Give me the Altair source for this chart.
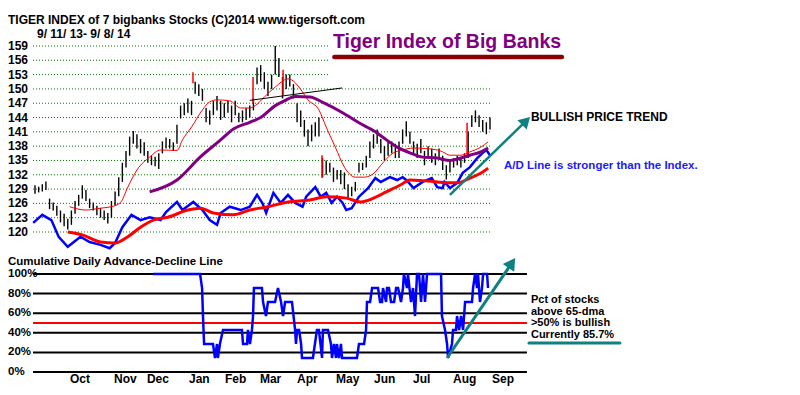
import altair as alt
import pandas as pd

# ---------------- layout constants ----------------
W, H = 784, 379
XMIN, XMAX = -14.835, 415.934          # trading-day index domain of the x scale
PRICE_DOMAIN = [87.497, 166.968]       # price scale domain (top panel)
PCT_DOMAIN = [-15.31, 371.43]          # percent scale domain (bottom panel)

# ---------------- data ----------------
bar_day = list(range(0, 251, 2))
bar_low = [128.0, 128.3, 128.5, 128.8, 124.8, 124.5, 123.4, 122.0, 121.2, 120.5,
           121.5, 123.8, 125.5, 127.0, 126.5, 125.0, 124.5, 123.5, 123.0, 122.5,
           121.8, 123.0, 125.5, 127.5, 130.5, 133.5, 136.0, 138.5, 137.5, 136.5,
           136.0, 134.5, 134.0, 133.8, 133.2, 136.5, 137.5, 137.5, 137.0, 138.5,
           143.8, 144.5, 145.0, 144.5, 149.0, 148.5, 147.5, 143.0, 142.5, 144.5,
           145.5, 143.5, 144.0, 145.0, 143.0, 144.5, 143.0, 143.0, 143.5, 144.0,
           145.5, 151.0, 151.5, 150.0, 148.5, 150.0, 153.0, 152.5, 148.0, 150.0,
           150.5, 148.0, 143.0, 142.0, 140.0, 138.0, 139.0, 140.0, 140.0, 131.5,
           132.0, 132.5, 130.5, 131.0, 130.0, 129.0, 127.0, 127.5, 128.5, 132.5,
           133.0, 133.5, 135.5, 137.5, 138.5, 136.5, 135.0, 136.0, 136.5, 135.5,
           135.5, 138.5, 140.0, 138.5, 136.5, 135.5, 136.5, 134.0, 135.5, 134.5,
           134.0, 135.5, 133.0, 131.0, 132.5, 133.5, 134.0, 133.5, 134.5, 135.5,
           142.0, 143.0, 142.0, 141.0, 140.5, 141.5]
bar_high = [129.8, 129.5, 130.0, 130.6, 127.0, 126.2, 125.5, 124.5, 123.8, 122.8,
            124.5, 126.5, 127.8, 129.8, 128.8, 127.0, 126.2, 125.5, 125.0, 124.5,
            124.0, 126.5, 128.5, 131.5, 134.5, 137.0, 140.0, 141.2, 140.5, 139.5,
            138.8, 137.0, 136.0, 135.8, 136.5, 139.0, 139.8, 139.5, 138.8, 142.5,
            146.5, 147.0, 148.0, 147.5, 151.5, 151.0, 150.0, 146.0, 145.5, 147.5,
            148.5, 147.5, 147.0, 147.5, 146.5, 147.5, 145.0, 145.5, 146.0, 146.5,
            148.0, 154.5, 155.0, 153.5, 151.5, 153.0, 159.0, 156.5, 152.5, 153.0,
            153.0, 151.0, 147.0, 145.5, 143.5, 141.5, 142.5, 143.0, 144.0, 135.5,
            135.0, 134.5, 133.5, 133.0, 133.0, 132.5, 130.0, 129.5, 130.5, 134.5,
            134.5, 136.0, 139.0, 140.5, 141.5, 139.5, 138.0, 139.0, 139.0, 138.5,
            139.0, 141.5, 143.2, 141.0, 139.0, 138.5, 139.5, 137.0, 138.0, 137.5,
            136.5, 137.5, 136.0, 134.0, 135.0, 135.5, 136.0, 135.5, 136.5, 141.0,
            144.5, 145.5, 144.5, 143.5, 143.0, 144.0]

# red signal bars
sig_day = [86.8, 119.8, 136.3, 157.7, 237.4]
sig_low = [151.2, 147.0, 148.7, 131.3, 135.7]
sig_high = [153.5, 152.5, 154.0, 136.1, 142.9]

# 21-dma (thin red)
ma21_day = [19, 28, 36, 42, 47, 51, 56, 63, 69, 78, 81, 86, 92, 96, 100, 107, 113, 118, 121,
            126, 132, 139, 141, 145, 150, 156, 160, 165, 170, 176, 181, 187, 190, 197, 202,
            208, 221, 224, 228, 234, 239, 245, 249]
ma21_val = [125.3, 124.6, 125.0, 125.3, 126.2, 129.4, 133.0, 135.7, 137.2, 137.1, 139.3, 142.0,
            145.6, 147.3, 147.7, 147.5, 146.0, 146.0, 146.5, 148.3, 150.4, 152.1, 151.9, 150.4,
            147.7, 145.6, 142.0, 137.8, 133.6, 131.5, 131.5, 132.6, 134.0, 136.6, 137.2, 137.6,
            137.2, 136.8, 136.1, 136.1, 136.8, 137.8, 138.9]

# 65-dma (purple)
ma65_day = [63, 78, 91, 102, 109, 118, 124, 132, 137, 143, 151, 159, 169, 178, 187, 191, 199,
            206, 213, 221, 228, 234, 239, 245, 249]
ma65_val = [128.4, 130.9, 135.8, 139.3, 141.6, 143.0, 144.0, 146.5, 147.5, 148.4, 148.3, 147.0,
            145.0, 142.9, 141.0, 139.9, 137.8, 136.6, 135.7, 135.5, 135.0, 135.5, 136.1, 136.8,
            137.6]

# black resistance trendline
trend_day = [118, 168.7]
trend_val = [147.6, 150.2]

# A/D line (blue) plotted on the price panel
ad_day = [-1, 4, 9, 13, 18, 25, 30, 36, 41, 44, 48, 53, 58, 63, 69, 72, 78, 81, 87, 92, 96, 100,
          102, 107, 113, 118, 122, 125, 127, 131, 135, 139, 143, 147, 149, 154, 157, 160, 163,
          166, 169, 171, 174, 178, 183, 187, 190, 195, 199, 202, 204, 208, 213, 218, 221, 224,
          225, 228, 232, 235, 239, 243, 246, 248, 250]
ad_val = [121.9, 123.6, 122.5, 119.0, 116.9, 119.0, 117.9, 117.3, 116.6, 117.7, 121.0, 123.6,
          122.5, 123.1, 122.5, 124.2, 126.3, 124.6, 126.3, 124.6, 122.5, 121.5, 124.0, 125.3,
          124.6, 125.3, 127.8, 126.0, 124.0, 128.2, 126.1, 127.8, 126.1, 125.3, 127.4, 129.4,
          127.4, 128.2, 126.1, 127.4, 126.1, 124.6, 125.0, 127.4, 129.2, 131.3, 130.5, 131.5,
          130.9, 131.5, 130.9, 129.2, 130.5, 131.3, 129.4, 129.2, 130.5, 129.2, 130.3, 132.4,
          133.6, 135.5, 136.6, 137.2, 136.1]

# moving average of the A/D line (thick red)
adma_day = [18, 26, 36, 44, 51, 58, 65, 73, 84, 91, 98, 109, 118, 128, 139, 151, 160, 171, 179,
            186, 193, 201, 206, 221, 226, 232, 239, 246, 249]
adma_val = [120.0, 119.4, 117.9, 117.7, 119.0, 121.0, 122.5, 123.1, 124.6, 125.0, 124.0, 123.6,
            124.6, 125.3, 126.3, 126.7, 127.4, 127.1, 126.3, 127.1, 128.4, 129.9, 130.9, 130.5,
            130.3, 130.3, 131.3, 132.6, 133.4]

# percent of stocks above 65-dma (bottom panel)
pct_day = [64.8, 90.7, 91.8, 92.3, 92.9, 97.8, 98.9, 100.0, 100.5, 101.6, 103.3, 113.7, 114.3,
           116.5, 117.0, 118.1, 119.2, 119.8, 120.3, 124.7, 125.3, 126.9, 128.0, 131.9, 133.5,
           135.2, 136.3, 137.4, 141.2, 142.9, 143.4, 144.0, 145.1, 146.2, 146.7, 152.7, 153.8,
           154.9, 156.0, 157.7, 158.2, 161.0, 162.6, 163.2, 164.3, 165.4, 165.9, 167.0, 168.1,
           168.7, 176.9, 178.0, 180.8, 181.9, 182.4, 184.1, 185.2, 188.5, 189.6, 190.7, 191.2,
           192.9, 193.4, 194.5, 195.6, 197.3, 198.4, 199.5, 201.1, 202.2, 202.7, 204.4, 204.9,
           206.6, 207.7, 208.8, 209.9, 211.0, 212.1, 213.2, 214.3, 215.4, 223.1, 223.6, 225.3,
           226.4, 227.0, 229.1, 229.7, 231.3, 231.9, 233.0, 234.1, 235.2, 236.3, 240.1, 240.7,
           241.8, 242.9, 243.4, 244.5, 245.6, 246.2, 248.4, 248.9]
pct_val = [100, 100, 85.7, 57.1, 28.6, 28.6, 14.3, 28.6, 14.3, 28.6, 42.9, 42.9, 28.6,
           28.6, 42.9, 28.6, 42.9, 57.1, 85.7, 85.7, 71.4, 57.1, 71.4, 71.4, 85.7,
           71.4, 57.1, 71.4, 71.4, 42.9, 28.6, 42.9, 42.9, 28.6, 14.3, 14.3, 28.6,
           42.9, 42.9, 14.3, 42.9, 42.9, 28.6, 14.3, 28.6, 14.3, 28.6, 14.3, 28.6,
           14.3, 14.3, 28.6, 28.6, 42.9, 71.4, 71.4, 85.7, 85.7, 71.4, 71.4, 85.7,
           71.4, 85.7, 85.7, 71.4, 71.4, 85.7, 85.7, 71.4, 85.7, 100, 85.7, 100,
           71.4, 85.7, 57.1, 100, 100, 71.4, 100, 71.4, 100, 100, 57.1, 42.9,
           28.6, 14.3, 28.6, 42.9, 42.9, 57.1, 42.9, 57.1, 42.9, 71.4, 71.4, 85.7,
           100, 85.7, 100, 71.4, 85.7, 100, 100, 85.7]

# axes / grids
price_ticks = [120, 123, 126, 129, 132, 135, 138, 141, 144, 147, 150, 153, 156, 159]
grid_end_day = [250, 250, 250, 250, 250, 250, 250, 250, 250, 250, 250, 161, 161, 161]
pct_ticks = [0, 20, 40, 60, 80, 100]
pct_labels = ["0%", "20%", "40%", "60%", "80%", "100%"]
months = ["Oct", "Nov", "Dec", "Jan", "Feb", "Mar", "Apr", "May", "Jun", "Jul", "Aug", "Sep"]
month_day = [19.2, 43.4, 61.5, 84.6, 104.4, 123.6, 144.0, 165.4, 186.3, 207.7, 229.7, 251.1]

# teal arrows (tail -> head)
arrow1_day = [228.0, 269.8]
arrow1_val = [127.8, 143.3]
arrow2_day = [226.4, 262.0]
arrow2_pct = [14.3, 111.2]

# ---------------- scales/helpers ----------------
xs = alt.Scale(domain=[XMIN, XMAX], nice=False, zero=False)
ps = alt.Scale(domain=PRICE_DOMAIN, nice=False, zero=False)
qs = alt.Scale(domain=PCT_DOMAIN, nice=False, zero=False)
FONT = "Liberation Sans"
TEAL = "#108080"


def X(f):
    return alt.X(f"{f}:Q", scale=xs, axis=None)


def YP(f):
    return alt.Y(f"{f}:Q", scale=ps, axis=None)


def YQ(f):
    return alt.Y(f"{f}:Q", scale=qs, axis=None)


layers = []

# price gridlines (green dotted)
grid_df = pd.DataFrame({"p": price_ticks, "d0": [-1.1] * len(price_ticks), "d1": grid_end_day})
layers.append(alt.Chart(grid_df).mark_rule(color="#007a00", strokeDash=[1, 2], strokeWidth=1)
              .encode(x=X("d0"), x2="d1", y=YP("p")))

# price labels
pl_df = pd.DataFrame({"p": price_ticks, "t": [str(v) for v in price_ticks]})
layers.append(alt.Chart(pl_df).mark_text(align="left", baseline="middle", font=FONT,
                                         fontSize=12, fontWeight="bold", color="black")
              .encode(x=alt.value(0), y=YP("p"), text="t:N"))

# price bars
bars_df = pd.DataFrame({"d": bar_day, "lo": bar_low, "hi": bar_high})
layers.append(alt.Chart(bars_df).mark_rule(color="black", strokeWidth=1.4)
              .encode(x=X("d"), y=YP("lo"), y2="hi"))

# red signal bars
sig_df = pd.DataFrame({"d": sig_day, "lo": sig_low, "hi": sig_high})
layers.append(alt.Chart(sig_df).mark_rule(color="#ff0000", strokeWidth=1.5)
              .encode(x=X("d"), y=YP("lo"), y2="hi"))

# 21-dma
ma21_df = pd.DataFrame({"d": ma21_day, "v": ma21_val})
layers.append(alt.Chart(ma21_df).mark_line(color="#ff0000", strokeWidth=1, interpolate="monotone")
              .encode(x=X("d"), y=YP("v")))

# A/D line
ad_df = pd.DataFrame({"d": ad_day, "v": ad_val})
layers.append(alt.Chart(ad_df).mark_line(color="#0000ff", strokeWidth=2.5)
              .encode(x=X("d"), y=YP("v")))

# A/D moving average
adma_df = pd.DataFrame({"d": adma_day, "v": adma_val})
layers.append(alt.Chart(adma_df).mark_line(color="#ff0000", strokeWidth=3, interpolate="monotone")
              .encode(x=X("d"), y=YP("v")))

# 65-dma
ma65_df = pd.DataFrame({"d": ma65_day, "v": ma65_val})
layers.append(alt.Chart(ma65_df).mark_line(color="#800080", strokeWidth=3, interpolate="monotone")
              .encode(x=X("d"), y=YP("v")))

# trendline
tr_df = pd.DataFrame({"d": trend_day, "v": trend_val})
layers.append(alt.Chart(tr_df).mark_line(color="black", strokeWidth=1)
              .encode(x=X("d"), y=YP("v")))

# teal arrow on price panel
a1_df = pd.DataFrame({"d": arrow1_day, "v": arrow1_val})
layers.append(alt.Chart(a1_df).mark_line(color=TEAL, strokeWidth=2.5)
              .encode(x=X("d"), y=YP("v")))
layers.append(alt.Chart(a1_df.tail(1)).mark_point(shape="triangle-up", filled=True, size=170,
                                                  angle=45, color=TEAL, opacity=1)
              .encode(x=X("d"), y=YP("v")))

# annotations on price panel
ann_df = pd.DataFrame({"d": [272.5], "v": [144.11], "t": ["BULLISH PRICE TREND"]})
layers.append(alt.Chart(ann_df).mark_text(align="left", baseline="middle", font=FONT, fontSize=12,
                                          fontWeight="bold", color="black")
              .encode(x=X("d"), y=YP("v"), text="t:N"))
ann2_df = pd.DataFrame({"d": [257.7], "v": [133.84], "t": ["A/D Line is stronger than the Index."]})
layers.append(alt.Chart(ann2_df).mark_text(align="left", baseline="middle", font=FONT, fontSize=11.5,
                                           fontWeight="bold", color="#1a1aff")
              .encode(x=X("d"), y=YP("v"), text="t:N"))

# big title with underline
ttl_df = pd.DataFrame({"d": [163.7], "v": [159.84], "t": ["Tiger Index of Big Banks"]})
layers.append(alt.Chart(ttl_df).mark_text(align="left", baseline="middle", font=FONT, fontSize=19.5,
                                          fontWeight="bold", color="#800080")
              .encode(x=X("d"), y=YP("v"), text="t:N"))
ul_df = pd.DataFrame({"d0": [164.5], "d1": [289.5], "v": [156.7]})
layers.append(alt.Chart(ul_df).mark_rule(color="#8b0000", strokeWidth=4.5, strokeCap="round")
              .encode(x=X("d0"), x2="d1", y=YP("v")))

# ---------- bottom panel ----------
pg_df = pd.DataFrame({"q": pct_ticks, "d0": [-1.1] * 6, "d1": [270.3] * 6, "t": pct_labels})
layers.append(alt.Chart(pg_df).mark_rule(color="black", strokeWidth=2)
              .encode(x=X("d0"), x2="d1", y=YQ("q")))
layers.append(alt.Chart(pg_df).mark_text(align="left", baseline="middle", font=FONT, fontSize=11.5,
                                         fontWeight="bold", color="black")
              .encode(x=alt.value(0), y=YQ("q"), text="t:N"))
red50_df = pd.DataFrame({"q": [50], "d0": [-1.1], "d1": [270.3]})
layers.append(alt.Chart(red50_df).mark_rule(color="#ff0000", strokeWidth=2)
              .encode(x=X("d0"), x2="d1", y=YQ("q")))

pct_df = pd.DataFrame({"d": pct_day, "q": pct_val})
layers.append(alt.Chart(pct_df).mark_line(color="#0000ff", strokeWidth=2.5)
              .encode(x=X("d"), y=YQ("q")))

a2_df = pd.DataFrame({"d": arrow2_day, "q": arrow2_pct})
layers.append(alt.Chart(a2_df).mark_line(color=TEAL, strokeWidth=3)
              .encode(x=X("d"), y=YQ("q")))
layers.append(alt.Chart(a2_df.tail(1)).mark_point(shape="triangle-up", filled=True, size=190,
                                                  angle=34, color=TEAL, opacity=1)
              .encode(x=X("d"), y=YQ("q")))

pt_df = pd.DataFrame({"d": [272.5] * 4, "q": [73.0, 61.2, 49.5, 37.8],
                      "t": ["Pct of stocks", "above 65-dma", ">50% is bullish", "Currently  85.7%"]})
layers.append(alt.Chart(pt_df).mark_text(align="left", baseline="middle", font=FONT, fontSize=11,
                                         fontWeight="bold", color="black")
              .encode(x=X("d"), y=YQ("q"), text="t:N"))
cu_df = pd.DataFrame({"d0": [271.4], "d1": [321.4], "q": [29.6]})
layers.append(alt.Chart(cu_df).mark_rule(color=TEAL, strokeWidth=3, strokeCap="round")
              .encode(x=X("d0"), x2="d1", y=YQ("q")))

cum_df = pd.DataFrame({"q": [112.2], "t": ["Cumulative Daily Advance-Decline Line"]})
layers.append(alt.Chart(cum_df).mark_text(align="left", baseline="middle", font=FONT, fontSize=11.5,
                                          fontWeight="bold", color="black")
              .encode(x=alt.value(0), y=YQ("q"), text="t:N"))

mo_df = pd.DataFrame({"d": month_day, "q": [-10.8] * len(months), "t": months})
layers.append(alt.Chart(mo_df).mark_text(align="left", baseline="alphabetic", font=FONT, fontSize=12,
                                         fontWeight="bold", color="black")
              .encode(x=X("d"), y=YQ("q"), text="t:N"))

# header
hdr_df = pd.DataFrame({"t": ["TIGER INDEX of  7 bigbanks Stocks  (C)2014  www.tigersoft.com"]})
layers.append(alt.Chart(hdr_df).mark_text(align="left", baseline="middle", font=FONT, fontSize=12,
                                          fontWeight="bold", color="black")
              .encode(x=alt.value(0), y=alt.value(12), text="t:N"))
dt_df = pd.DataFrame({"t": ["9/ 11/ 13- 9/ 8/ 14"]})
layers.append(alt.Chart(dt_df).mark_text(align="left", baseline="middle", font=FONT, fontSize=12,
                                         fontWeight="bold", color="black")
              .encode(x=alt.value(29), y=alt.value(26), text="t:N"))

chart = (alt.layer(*layers)
         .resolve_scale(y="independent")
         .properties(width=W, height=H, padding=0, background="white",
                     autosize=alt.AutoSizeParams(type="none"))
         .configure_view(stroke=None))

chart.save("out.html", embed_options={"renderer": "svg", "actions": False})
